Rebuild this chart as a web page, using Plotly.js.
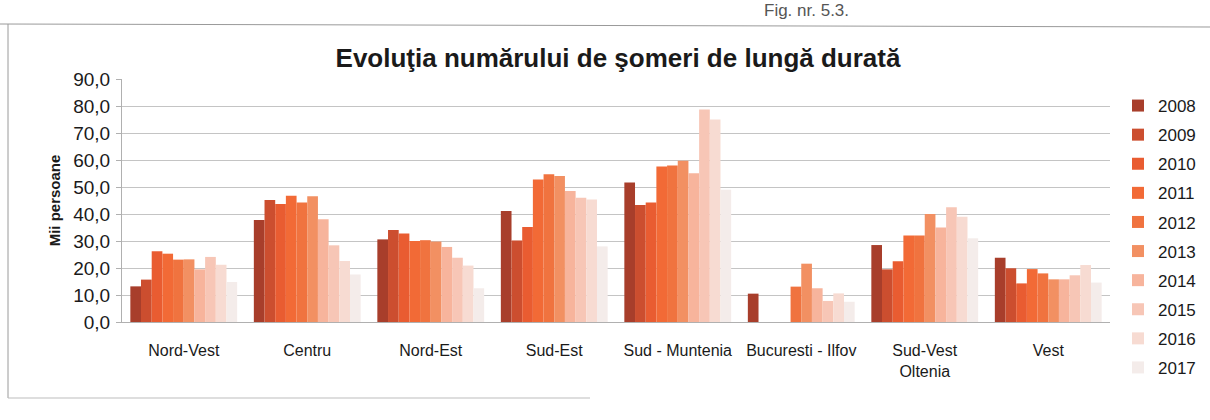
<!DOCTYPE html>
<html>
<head>
<meta charset="utf-8">
<script src="https://cdn.plot.ly/plotly-3.0.1.min.js"></script>
<style>html,body{margin:0;padding:0;background:#fff;}#chart{width:1210px;height:420px;}</style>
</head>
<body>
<div id="chart"></div>
<script>
const regions = ['Nord-Vest', 'Centru', 'Nord-Est', 'Sud-Est', 'Sud - Muntenia', 'Bucuresti - Ilfov', 'Sud-Vest<br>Oltenia', 'Vest'];
const years = ['2008', '2009', '2010', '2011', '2012', '2013', '2014', '2015', '2016', '2017'];

const v2008 = [13.2, 37.8, 30.6, 41.1, 51.7, 10.5, 28.5, 23.8];
const v2009 = [15.7, 45.2, 34.1, 30.2, 43.3, null, 19.5, 19.9];
const v2010 = [26.2, 43.7, 32.8, 35.2, 44.3, null, 22.5, 14.3];
const v2011 = [25.3, 46.8, 30.0, 52.8, 57.6, null, 32.0, 19.6];
const v2012 = [23.1, 44.3, 30.3, 54.7, 58.0, 13.1, 32.0, 18.0];
const v2013 = [23.2, 46.6, 29.8, 54.1, 59.7, 21.6, 40.0, 15.8];
const v2014 = [19.5, 38.1, 27.8, 48.5, 55.1, 12.5, 35.0, 15.8];
const v2015 = [24.1, 28.4, 23.8, 46.0, 78.7, 7.8, 42.5, 17.3];
const v2016 = [21.2, 22.6, 20.9, 45.4, 75.0, 10.6, 39.0, 21.1];
const v2017 = [14.8, 17.6, 12.5, 28.0, 49.0, 7.5, 31.0, 14.6];

const series = [v2008, v2009, v2010, v2011, v2012, v2013, v2014, v2015, v2016, v2017];
const colors = ['#a83e2b', '#cc4e2f', '#e95c31', '#f26a36', '#f0733f', '#f29062', '#f7b49c', '#f7c6b6', '#f7dbd2', '#f4ecea'];

const traces = years.map((y, i) => ({
  type: 'bar',
  name: y,
  x: regions,
  y: series[i],
  legendgroup: 'g' + y,
  marker: {color: colors[i], line: {width: 0}},
  hoverinfo: 'x+y+name'
}));

const FONT = 'Liberation Sans, Arial, sans-serif';
const T = 79, B = 98, L = 122, R = 100;
const PH = 420 - T - B, PW = 1210 - L - R;
const px = v => (v - L) / PW;
const py = v => (420 - B - v) / PH;

const layout = {
  width: 1210,
  height: 420,
  margin: {l: L, r: R, t: T, b: B},
  paper_bgcolor: '#ffffff',
  plot_bgcolor: '#ffffff',
  font: {family: FONT, size: 16, color: '#1a1a1a'},
  barmode: 'group',
  bargap: 0.135,
  bargroupgap: 0,
  title: {
    text: '<b>Evoluţia numărului de şomeri de lungă durată</b>',
    font: {family: FONT, size: 26, color: '#1a1a1a'},
    x: 618 / 1210, xanchor: 'center', xref: 'container',
    y: 1 - 58 / 420, yanchor: 'middle', yref: 'container'
  },
  xaxis: {
    type: 'category',
    showgrid: false,
    showline: true,
    linecolor: '#b0b0b0',
    linewidth: 1,
    ticks: '',
    tickfont: {family: FONT, size: 16, color: '#1a1a1a'},
    ticklabelstandoff: 14
  },
  yaxis: {
    range: [0, 90],
    dtick: 10,
    tickformat: '.1f',
    showgrid: true,
    gridcolor: '#c4c4c4',
    gridwidth: 1,
    showline: true,
    linecolor: '#b0b0b0',
    ticks: 'outside',
    ticklen: 5,
    tickcolor: '#b0b0b0',
    ticklabelstandoff: 2,
    zeroline: false,
    tickfont: {family: FONT, size: 19, color: '#1a1a1a'},
    title: {
      text: '<b>Mii persoane</b>',
      font: {family: FONT, size: 15, color: '#1a1a1a'},
      standoff: 8
    }
  },
  separators: ',.',
  showlegend: true,
  legend: {
    xref: 'container', yref: 'container',
    x: 1118 / 1210, xanchor: 'left',
    y: 1 - 88 / 420, yanchor: 'top',
    font: {family: FONT, size: 17, color: '#1a1a1a'},
    itemwidth: 30,
    tracegroupgap: 4,
    maxheight: 345,
    bgcolor: 'rgba(0,0,0,0)'
  },
  annotations: [
    {
      text: 'Fig. nr. 5.3.',
      xref: 'paper', yref: 'paper',
      x: px(806), y: py(10),
      xanchor: 'center', yanchor: 'middle',
      showarrow: false,
      font: {family: FONT, size: 17, color: '#555555'}
    }
  ],
  shapes: [
    {type: 'line', xref: 'paper', yref: 'paper', x0: px(0), x1: px(1210), y0: py(24), y1: py(27), line: {color: '#9a9a9a', width: 1}},
    {type: 'line', xref: 'paper', yref: 'paper', x0: px(8), x1: px(8), y0: py(24), y1: py(398), line: {color: '#9a9a9a', width: 1}},
    {type: 'line', xref: 'paper', yref: 'paper', x0: px(8), x1: px(590), y0: py(398), y1: py(398), line: {color: '#bdbdbd', width: 1}}
  ]
};

Plotly.newPlot('chart', traces, layout, {displayModeBar: false, responsive: false});
</script>
</body>
</html>
